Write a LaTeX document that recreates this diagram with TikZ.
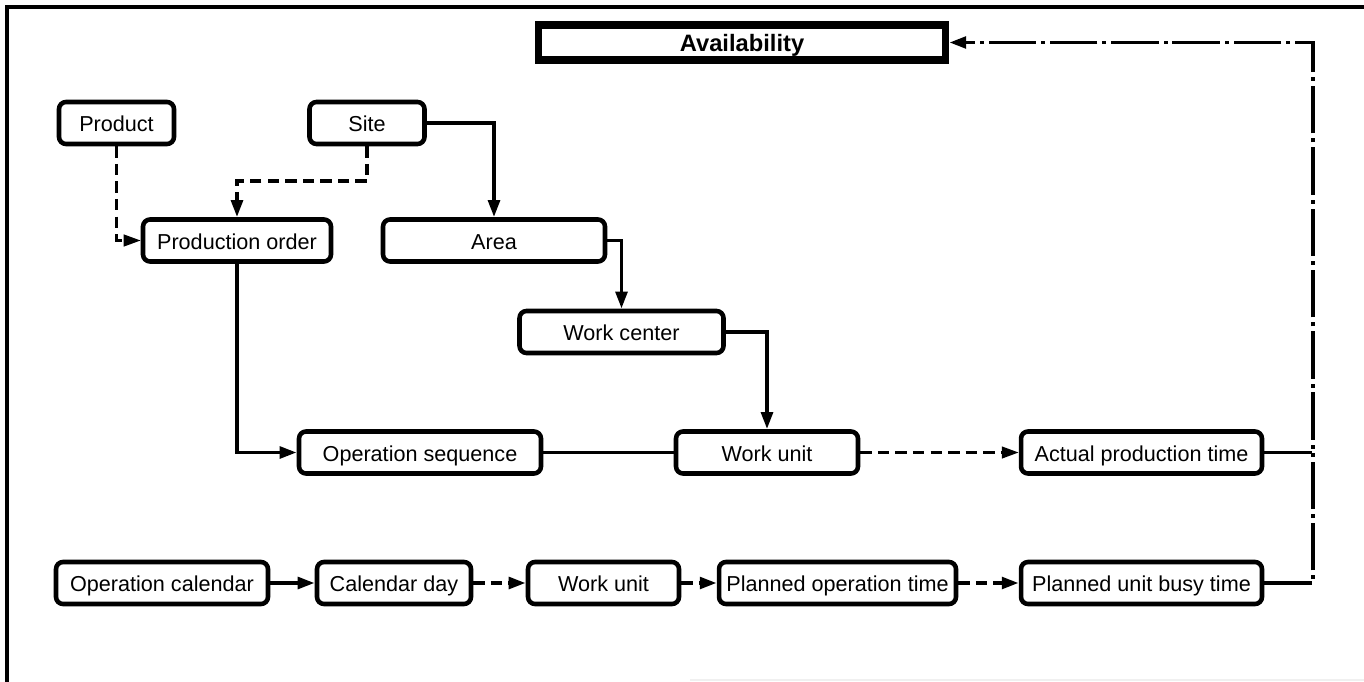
\documentclass[tikz,border=0pt]{standalone}
\usepackage{fontspec}
\setmainfont{Liberation Sans}
\usetikzlibrary{arrows.meta,positioning}
\tikzstyle{flow} = [
  x=0.02cm,
  y=-0.02cm,
  font=\fontsize{12.3}{14}\selectfont,
  line width=2.2pt,
  >={Triangle[length=3.4mm,width=2.3mm]},
]
\tikzstyle{box} = [
  draw,
  line width=2.6pt,
  rounded corners=4pt,
  minimum height=0.84cm,
  inner xsep=2pt,
  text height=9.8pt,
  text depth=0pt,
]
\tikzstyle{availbox} = [
  draw,
  line width=4pt,
  minimum width=8.15cm,
  minimum height=0.7cm,
  text height=10.5pt,
  text depth=0pt,
  font=\fontsize{13.5}{16}\selectfont\bfseries,
]
\tikzstyle{dashlink} = [dash pattern=on 6.5pt off 3.5pt]
\tikzstyle{chainlink} = [dash pattern=on 27pt off 2.8pt on 2.3pt off 2.8pt]

\begin{document}
\begin{tikzpicture}[flow]
      \useasboundingbox (0,0) rectangle (1364,682);

      % Frame
      \draw (7,682) -- (7,7) -- (1364,7);
      \draw[gray!12, line width=0.6pt] (690,680) -- (1364,680);

      % Boxes
      \node[availbox] (avail) at (742,42.5) {Availability};
      \node[box, minimum width=2.3cm] (product) at (116.5,123) {Product};
      \node[box, minimum width=2.3cm] (site) at (367,123) {Site};
      \node[box, minimum width=3.76cm] (prodorder) at (237,240.5) {Production order};
      \node[box, minimum width=4.44cm] (area) at (494,240.5) {Area};
      \node[box, minimum width=4.08cm] (workcenter) at (621.5,332) {Work center};
      \node[box, minimum width=4.84cm] (opseq) at (420,452.5) {Operation sequence};
      \node[box, minimum width=3.64cm] (workunit) at (767,452.5) {Work unit};
      \node[box, minimum width=4.82cm] (actual) at (1141.5,452.5) {Actual production time};

      \node[box, minimum width=4.24cm] (opcal) at (162,583) {Operation calendar};
      \node[box, minimum width=3.08cm] (calday) at (394,583) {Calendar day};
      \node[box, minimum width=3.02cm] (dayunit) at (603.5,583) {Work unit};
      \node[box, minimum width=4.74cm] (plannedop) at (837.5,583) {Planned operation time};
      \node[box, minimum width=4.82cm] (busytime) at (1141.5,583) {Planned unit busy time};

      \coordinate[below=0.7cm of site] (sitebend);
      \coordinate (railtop) at (1313,42.5);
      \coordinate (railmid) at (1313,452.5);

      % Links
      \draw[->, dashlink, line width=1.5pt] (product) |- (prodorder);
      \draw[->, dashlink] (site) |- (sitebend) -| (prodorder);
      \draw[->] (site) -| (area);
      \draw[->] (area) -| (workcenter);
      \draw[->] (workcenter) -| (workunit);
      \draw[->] (prodorder) |- (opseq);
      \draw (opseq) -- (workunit);
      \draw[->, dashlink, line width=1.6pt] (workunit) -- (actual);

      \draw[->] (opcal) -- (calday);
      \draw[->, dashlink] (calday) -- (dayunit);
      \draw[->, dashlink] (dayunit) -- (plannedop);
      \draw[->, dashlink] (plannedop) -- (busytime);

      % Feedback
      \draw[->, chainlink] (actual) -| (railtop) -- (avail);
      \draw[chainlink] (busytime) -| (railmid);
    \end{tikzpicture}
\end{document}
